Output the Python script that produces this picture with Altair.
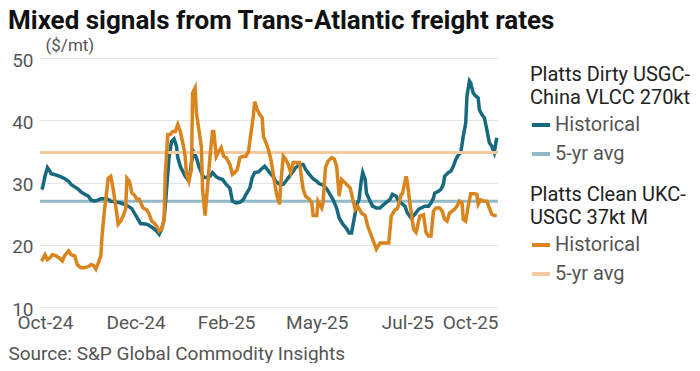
import altair as alt
import pandas as pd

# ---- data ----
dirty_dates = [
    "2024-09-28","2024-09-29","2024-10-01","2024-10-03","2024-10-05","2024-10-06","2024-10-10","2024-10-14",
    "2024-10-17","2024-10-20","2024-10-22","2024-10-25","2024-10-28","2024-10-30","2024-11-02","2024-11-05",
    "2024-11-07","2024-11-10","2024-11-13","2024-11-15","2024-11-18","2024-11-21","2024-11-23","2024-11-26",
    "2024-11-29","2024-12-01","2024-12-04","2024-12-07","2024-12-10","2024-12-12","2024-12-15","2024-12-17",
    "2024-12-22","2024-12-24","2024-12-27","2024-12-30","2025-01-01","2025-01-03","2025-01-05","2025-01-07",
    "2025-01-09","2025-01-11","2025-01-13","2025-01-15","2025-01-16","2025-01-18","2025-01-20","2025-01-22",
    "2025-01-24","2025-01-26","2025-01-27","2025-01-29","2025-01-31","2025-02-02","2025-02-04","2025-02-06",
    "2025-02-08","2025-02-11","2025-02-13","2025-02-16","2025-02-19","2025-02-21","2025-02-24","2025-02-27",
    "2025-03-01","2025-03-04","2025-03-07","2025-03-10","2025-03-12","2025-03-15","2025-03-17","2025-03-19",
    "2025-03-22","2025-03-24","2025-03-27","2025-03-29","2025-03-31","2025-04-03","2025-04-05","2025-04-08",
    "2025-04-11","2025-04-13","2025-04-16","2025-04-19","2025-04-21","2025-04-24","2025-04-27","2025-04-29",
    "2025-05-02","2025-05-05","2025-05-08","2025-05-10","2025-05-13","2025-05-16","2025-05-18","2025-05-21",
    "2025-05-24","2025-05-26","2025-05-29","2025-06-01","2025-06-03","2025-06-05","2025-06-07","2025-06-09",
    "2025-06-11","2025-06-13","2025-06-14","2025-06-16","2025-06-17","2025-06-20","2025-06-22","2025-06-25",
    "2025-06-28","2025-06-30","2025-07-03","2025-07-06","2025-07-08","2025-07-11","2025-07-12","2025-07-15",
    "2025-07-18","2025-07-20","2025-07-23","2025-07-26","2025-07-29","2025-07-31","2025-08-03","2025-08-06",
    "2025-08-08","2025-08-10","2025-08-11","2025-08-14","2025-08-16","2025-08-18","2025-08-19","2025-08-22",
    "2025-08-24","2025-08-26","2025-08-28","2025-08-30","2025-09-01","2025-09-03","2025-09-05","2025-09-06",
    "2025-09-08","2025-09-09","2025-09-11","2025-09-13","2025-09-15","2025-09-16","2025-09-18","2025-09-20",
    "2025-09-22","2025-09-24","2025-09-26","2025-09-28","2025-09-30",
]
dirty_values = [
    28.9, 29.1, 31.0, 32.4, 31.8, 31.4, 31.2, 30.9,
    30.6, 30.2, 29.7, 29.3, 28.9, 28.5, 28.1, 27.8,
    27.2, 27.0, 27.2, 27.4, 27.4, 27.3, 27.0, 26.9,
    26.8, 26.7, 26.5, 26.2, 25.8, 25.1, 24.1, 23.4,
    23.3, 23.1, 22.7, 22.2, 21.7, 22.5, 24.1, 28.9,
    34.2, 36.6, 37.0, 35.8, 34.0, 32.6, 31.8, 31.0,
    30.5, 31.6, 33.2, 34.8, 34.0, 32.6, 31.6, 30.8,
    30.8, 31.0, 31.6, 30.9, 30.6, 30.5, 29.7, 29.1,
    27.0, 26.7, 26.8, 27.3, 28.1, 29.1, 30.8, 31.6,
    31.7, 32.1, 32.6, 32.1, 31.6, 30.9, 30.2, 29.7,
    29.7, 30.2, 31.0, 31.8, 32.4, 32.9, 32.9, 32.1,
    31.3, 30.6, 30.2, 29.8, 29.6, 29.0, 28.3, 27.3,
    25.9, 24.3, 23.3, 22.6, 21.9, 21.9, 24.1, 26.2,
    27.3, 30.5, 31.6, 30.5, 28.3, 27.0, 26.2, 25.9,
    25.9, 26.3, 26.8, 27.3, 28.1, 27.8, 27.3, 26.7,
    26.2, 25.1, 24.3, 24.9, 25.7, 25.9, 26.2, 26.2,
    26.7, 27.5, 28.3, 28.6, 28.9, 29.7, 31.0, 31.6,
    31.8, 32.6, 33.7, 34.4, 34.8, 37.4, 39.6, 43.9,
    46.3, 46.0, 44.4, 43.9, 43.6, 41.7, 40.9, 40.4,
    38.5, 36.4, 35.8, 34.8, 37.2,
]
clean_dates = [
    "2024-09-28","2024-09-29","2024-10-01","2024-10-03","2024-10-05","2024-10-07","2024-10-10","2024-10-13",
    "2024-10-15","2024-10-17","2024-10-20","2024-10-22","2024-10-25","2024-10-27","2024-10-30","2024-11-02",
    "2024-11-05","2024-11-07","2024-11-09","2024-11-11","2024-11-13","2024-11-15","2024-11-16","2024-11-18",
    "2024-11-19","2024-11-21","2024-11-23","2024-11-25","2024-11-27","2024-11-29","2024-12-01","2024-12-03",
    "2024-12-05","2024-12-06","2024-12-08","2024-12-10","2024-12-12","2024-12-14","2024-12-16","2024-12-19",
    "2024-12-22","2024-12-24","2024-12-26","2024-12-28","2024-12-30","2025-01-01","2025-01-03","2025-01-05",
    "2025-01-06","2025-01-08","2025-01-10","2025-01-12","2025-01-14","2025-01-16","2025-01-18","2025-01-20",
    "2025-01-22","2025-01-23","2025-01-25","2025-01-27","2025-01-28","2025-01-30","2025-01-31","2025-02-02",
    "2025-02-04","2025-02-05","2025-02-07","2025-02-09","2025-02-11","2025-02-13","2025-02-14","2025-02-16",
    "2025-02-18","2025-02-20","2025-02-22","2025-02-24","2025-02-27","2025-03-01","2025-03-03","2025-03-05",
    "2025-03-07","2025-03-10","2025-03-12","2025-03-14","2025-03-16","2025-03-18","2025-03-19","2025-03-21",
    "2025-03-23","2025-03-25","2025-03-26","2025-03-28","2025-03-30","2025-04-01","2025-04-02","2025-04-04",
    "2025-04-06","2025-04-08","2025-04-09","2025-04-11","2025-04-13","2025-04-15","2025-04-17","2025-04-19",
    "2025-04-21","2025-04-24","2025-04-25","2025-04-27","2025-04-29","2025-05-02","2025-05-04","2025-05-05",
    "2025-05-08","2025-05-09","2025-05-12","2025-05-13","2025-05-15","2025-05-17","2025-05-20","2025-05-22",
    "2025-05-24","2025-05-26","2025-05-28","2025-05-30","2025-06-01","2025-06-04","2025-06-06","2025-06-08",
    "2025-06-10","2025-06-13","2025-06-16","2025-06-18","2025-06-22","2025-06-25","2025-06-28","2025-07-02",
    "2025-07-05","2025-07-07","2025-07-10","2025-07-12","2025-07-15","2025-07-16","2025-07-19","2025-07-20",
    "2025-07-22","2025-07-25","2025-07-27","2025-07-30","2025-08-02","2025-08-04","2025-08-06","2025-08-08",
    "2025-08-10","2025-08-12","2025-08-15","2025-08-17","2025-08-19","2025-08-21","2025-08-23","2025-08-25",
    "2025-08-27","2025-08-29","2025-08-31","2025-09-02","2025-09-03","2025-09-05","2025-09-07","2025-09-09",
    "2025-09-12","2025-09-14","2025-09-15","2025-09-17","2025-09-20","2025-09-22","2025-09-24","2025-09-26",
    "2025-09-28","2025-09-30",
]
clean_values = [
    17.4, 17.6, 18.4, 17.6, 17.9, 18.4, 18.2, 17.8,
    17.4, 18.3, 19.0, 18.4, 18.2, 16.8, 16.3, 16.3,
    16.5, 16.8, 16.7, 16.1, 17.1, 18.2, 21.4, 25.7,
    27.3, 30.7, 31.0, 28.9, 26.2, 23.3, 23.8, 24.6,
    25.7, 30.7, 30.2, 28.3, 28.0, 27.3, 27.3, 25.9,
    25.6, 24.9, 23.8, 23.5, 23.0, 22.2, 22.5, 24.1,
    31.6, 37.7, 37.7, 38.2, 38.2, 39.3, 38.2, 36.4,
    34.2, 31.3, 30.2, 32.1, 44.4, 45.2, 41.2, 38.5,
    35.8, 28.9, 24.7, 29.4, 34.2, 38.2, 38.2, 34.2,
    35.0, 35.6, 34.2, 34.0, 32.9, 31.3, 31.6, 32.1,
    34.0, 34.2, 34.2, 35.0, 38.0, 40.9, 43.0, 41.7,
    40.9, 40.4, 37.4, 36.4, 35.3, 33.7, 32.6, 29.9,
    27.8, 26.5, 29.9, 34.2, 33.7, 32.9, 31.6, 33.2,
    33.2, 33.2, 31.8, 28.9, 27.8, 27.3, 26.7, 24.7,
    24.7, 27.0, 25.9, 26.7, 32.4, 33.4, 34.0, 33.8,
    32.6, 27.8, 30.5, 30.1, 29.7, 29.1, 27.3, 25.7,
    26.2, 25.1, 24.7, 23.0, 20.9, 19.3, 20.3, 20.3,
    20.3, 24.6, 25.6, 25.8, 28.1, 28.2, 31.0, 29.9,
    26.7, 22.5, 22.0, 24.6, 24.8, 22.0, 21.4, 21.4,
    25.4, 25.9, 25.9, 25.4, 24.1, 23.8, 25.1, 25.4,
    25.7, 26.2, 27.0, 26.7, 24.1, 23.8, 26.2, 28.2,
    28.2, 28.1, 26.5, 27.2, 27.0, 27.0, 25.9, 24.9,
    24.7, 24.7,
]
dirty_avg = 27.0
clean_avg = 34.8

series_names = ["Historical", "5-yr avg"]
dirty_title = ["Platts Dirty USGC-", "China VLCC 270kt"]
clean_title = ["Platts Clean UKC-", "USGC 37kt M"]
tick_dates = [(2024, 10, 1), (2024, 12, 13), (2025, 2, 24), (2025, 5, 8), (2025, 7, 20), (2025, 10, 1)]
y_ticks = [10, 20, 30, 40, 50]

dirty_colors = ["#17697f", "#92b9c7"]
clean_colors = ["#d9841c", "#f2c9a0"]

FONT = "Roboto"

dirty_df = pd.DataFrame({"date": [d + "T00:00" for d in dirty_dates], "value": dirty_values,
                         "series": series_names[0]})
clean_df = pd.DataFrame({"date": [d + "T00:00" for d in clean_dates], "value": clean_values,
                         "series": series_names[0]})
dirty_avg_df = pd.DataFrame({"value": [dirty_avg], "series": [series_names[1]]})
clean_avg_df = pd.DataFrame({"value": [clean_avg], "series": [series_names[1]]})

x_enc = alt.X(
    "date:T",
    scale=alt.Scale(domain=[alt.DateTime(year=2024, month=9, date=27),
                            alt.DateTime(year=2025, month=10, date=1)]),
    axis=alt.Axis(
        values=[alt.DateTime(year=y, month=m, date=d) for (y, m, d) in tick_dates],
        format="%b-%y", grid=False, labelPadding=6, labelFontSize=19,
        title="Source: S&P Global Commodity Insights",
        titleX=-32, titleY=46, titleAlign="left", titleBaseline="middle",
        titleFontSize=19, titleFontWeight="normal", titleColor="#555555", titleFont=FONT,
    ),
)
y_scale = alt.Scale(domain=[10, 50], nice=False)
y_axis = alt.Axis(values=y_ticks, grid=True, labelPadding=7, labelOffset=2, labelFontSize=19,
                  title="($/mt)", titleAngle=0, titleX=5, titleY=-8,
                  titleAlign="left", titleBaseline="alphabetic",
                  titleFontSize=17, titleFontWeight="normal", titleColor="#555555", titleFont=FONT)


def group(df, avg_df, colors, title, legend_y):
    color = alt.Color(
        "series:N",
        scale=alt.Scale(domain=series_names, range=colors),
        legend=alt.Legend(
            title=title, orient="none", legendX=490, legendY=legend_y,
            symbolType="stroke", symbolStrokeWidth=4, symbolSize=324,
            titleFontSize=20, titleFontWeight="normal", titleColor="#222222", titleFont=FONT,
            titleLineHeight=23, titlePadding=6,
            labelFontSize=20, labelColor="#555555", labelFont=FONT, labelOffset=3,
            rowPadding=8,
        ),
    )
    rule = alt.Chart(avg_df).mark_rule(strokeWidth=3).encode(
        y=alt.Y("value:Q", scale=y_scale, axis=y_axis), color=color)
    line = alt.Chart(df).mark_line(strokeWidth=3.5, interpolate="linear").encode(
        x=x_enc, y=alt.Y("value:Q", scale=y_scale, axis=y_axis), color=color)
    return alt.layer(rule, line)


chart = alt.layer(
    group(dirty_df, dirty_avg_df, dirty_colors, dirty_title, 7),
    group(clean_df, clean_avg_df, clean_colors, clean_title, 127),
).resolve_scale(color="independent").properties(
    width=458, height=249,
    padding={"left": 0, "top": 0, "right": 0, "bottom": 0},
    title=alt.Title("Mixed signals from Trans-Atlantic freight rates", anchor="start", frame="bounds",
                    fontSize=26, font=FONT, fontWeight="bold", color="#111111", offset=2),
).configure_view(stroke=None).configure_axis(
    domain=False, ticks=False, gridColor="#e4e4e4", gridWidth=1,
    labelFont=FONT, labelColor="#555555",
)

chart.save("out.html", embed_options={"renderer": "svg", "actions": False})
